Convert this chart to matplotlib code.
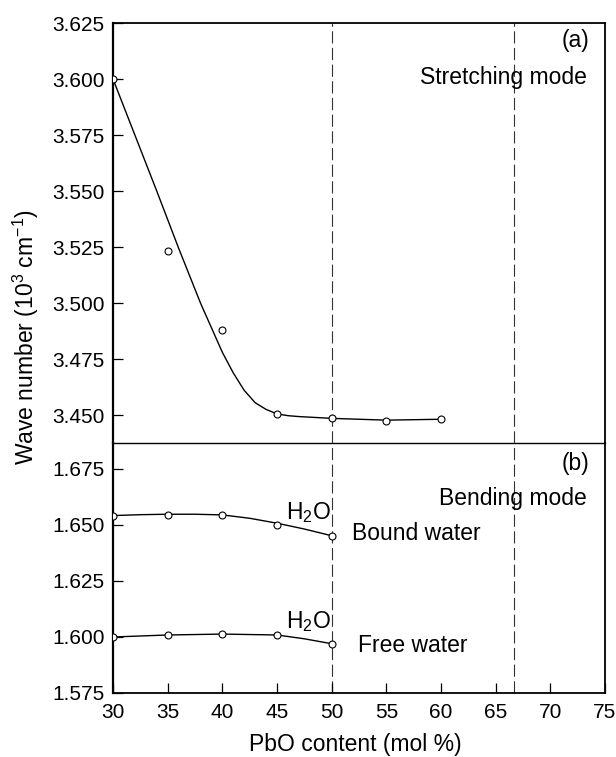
import numpy as np
import matplotlib.pyplot as plt

plt.rcParams['font.family'] = ['Liberation Sans', 'DejaVu Sans']
plt.rcParams['mathtext.fontset'] = 'custom'
plt.rcParams['mathtext.rm'] = 'Liberation Sans'
plt.rcParams['mathtext.it'] = 'Liberation Sans'

# measured points, stretching mode (a)
pbo_a = [30, 35, 40, 45, 50, 55, 60]
wn_a = [3.600, 3.523, 3.488, 3.4505, 3.4485, 3.4473, 3.4481]
# drawn fit curve (a)
fit_a_x = [30, 32, 34, 36, 38, 39, 40, 41, 42, 43, 44, 45, 46, 47, 50, 55, 60]
fit_a_y = [3.600, 3.575, 3.550, 3.5245, 3.500, 3.489, 3.478, 3.4688, 3.461,
           3.4555, 3.4525, 3.4505, 3.4497, 3.4493, 3.4485, 3.4477, 3.4481]

# bending mode (b)
pbo_b = [30, 35, 40, 45, 50]
bound = [1.6542, 1.6546, 1.6545, 1.6501, 1.6452]
free = [1.6000, 1.6009, 1.6015, 1.6010, 1.5970]
fit_bound_x = [30, 32.5, 35, 37.5, 40, 42.5, 45, 47.5, 50]
fit_bound_y = [1.6542, 1.6546, 1.6548, 1.6548, 1.6545, 1.6530, 1.6508, 1.6482, 1.6452]
fit_free_x = [30, 35, 40, 45, 47.5, 50]
fit_free_y = [1.6000, 1.6009, 1.6013, 1.6009, 1.5992, 1.5970]

comp_lines = [50, 66.67]

fig = plt.figure(figsize=(6.16, 7.57), dpi=100)
L, R = 113 / 616, 605 / 616
y_top, y_mid, y_bot = 1 - 23 / 757, 1 - 443 / 757, 1 - 693 / 757
ax1 = fig.add_axes([L, y_mid, R - L, y_top - y_mid])
ax2 = fig.add_axes([L, y_bot, R - L, y_mid - y_bot], sharex=ax1)
ax2.patch.set_visible(False)

for ax in (ax1, ax2):
    for v in comp_lines:
        ax.axvline(v, color='#333333', lw=0.8, ls=(0, (11, 4)), zorder=1)
    ax.spines['left'].set_linewidth(1.6)
    ax.spines['right'].set_linewidth(1.3)
    ax.spines['top'].set_linewidth(1.3)
    ax.spines['bottom'].set_linewidth(1.3)
    ax.tick_params(direction='in', length=7, width=0.9, labelsize=15,
                   top=False, right=False, pad=6)

ax1.spines['bottom'].set_linewidth(1.0)
ax2.spines['top'].set_visible(False)

mk = dict(ls='none', marker='o', ms=5, mfc='white', mec='black', mew=0.8, zorder=3)

ax1.plot(fit_a_x, fit_a_y, color='black', lw=1.0, zorder=2)
ax1.plot(pbo_a, wn_a, **mk)
ax1.set_ylim(3.4375, 3.625)
ax1.set_yticks(np.arange(3.450, 3.6251, 0.025))
ax1.set_yticklabels(['%.3f' % t for t in np.arange(3.450, 3.6251, 0.025)])
ax1.tick_params(axis='x', bottom=False, labelbottom=False)
ax1.text(0.968, 0.986, '(a)', transform=ax1.transAxes, ha='right', va='top', fontsize=16.5)
ax1.text(0.963, 0.898, 'Stretching mode', transform=ax1.transAxes, ha='right', va='top', fontsize=16.5)

ax2.plot(fit_bound_x, fit_bound_y, color='black', lw=1.0, zorder=2)
ax2.plot(pbo_b, bound, **mk)
ax2.plot(fit_free_x, fit_free_y, color='black', lw=1.0, zorder=2)
ax2.plot(pbo_b, free, **mk)
ax2.set_ylim(1.575, 1.6866)
ax2.set_yticks(np.arange(1.575, 1.6751, 0.025))
ax2.set_yticklabels(['%.3f' % t for t in np.arange(1.575, 1.6751, 0.025)])
ax2.set_xlim(30, 75)
ax2.set_xticks(range(30, 76, 5))
ax2.tick_params(axis='x', pad=7)

ax2.text(0.968, 0.964, '(b)', transform=ax2.transAxes, ha='right', va='top', fontsize=16.5)
ax2.text(0.963, 0.824, 'Bending mode', transform=ax2.transAxes, ha='right', va='top', fontsize=16.5)
ax2.text(49.9, 1.6555, r'H$_2$O', ha='right', va='center', fontsize=16.5)
ax2.text(51.9, 1.6462, 'Bound water', ha='left', va='center', fontsize=16.5)
ax2.text(49.9, 1.6068, r'H$_2$O', ha='right', va='center', fontsize=16.5)
ax2.text(52.4, 1.5960, 'Free water', ha='left', va='center', fontsize=16.5)

fig.text(26 / 616, 1 - 337 / 757, r'Wave number (10$^3$ cm$^{-1}$)', rotation=90,
         ha='center', va='center', fontsize=16.5)
fig.text(355 / 616, 1 - 745 / 757, 'PbO content (mol %)', ha='center', va='center', fontsize=16.5)

fig.savefig('out.png', dpi=100)
